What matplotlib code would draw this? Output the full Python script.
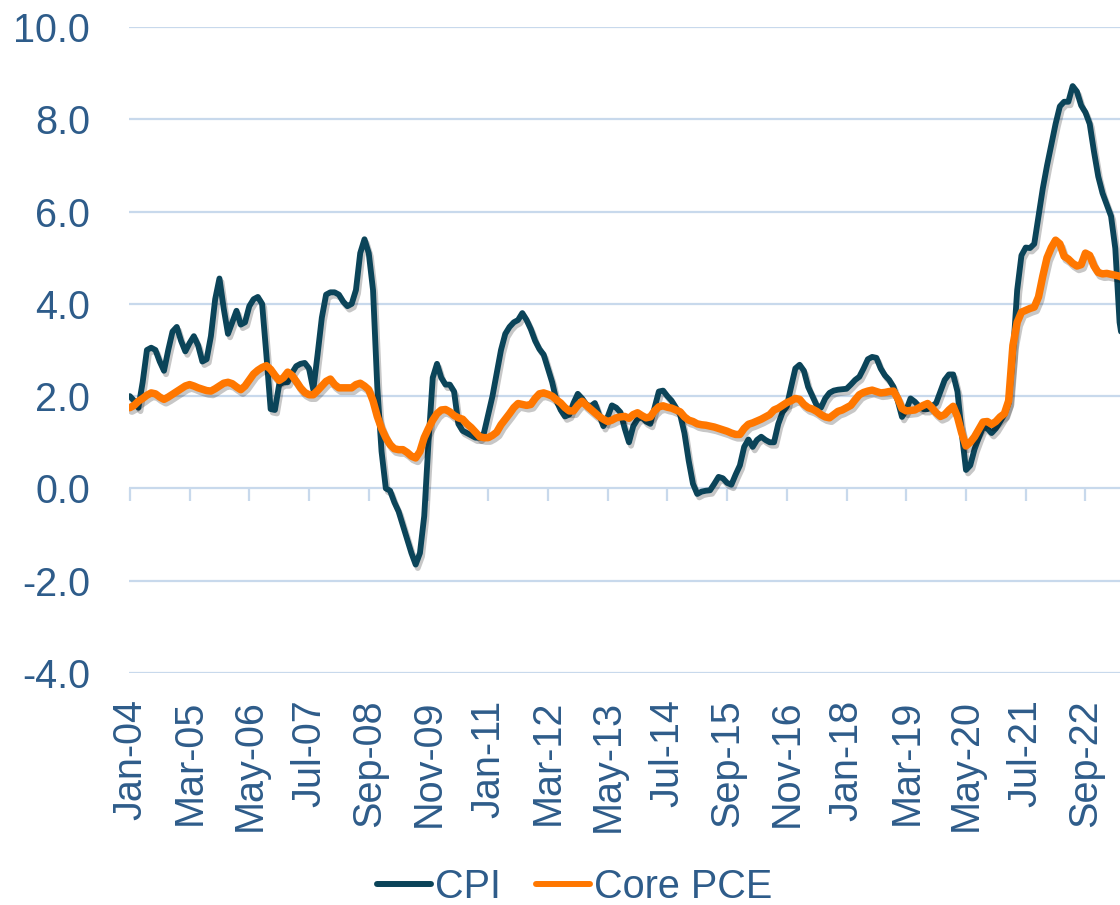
import numpy as np
import matplotlib
matplotlib.use("Agg")
import matplotlib.pyplot as plt
import matplotlib.patheffects as pe

# ---- data (monthly, starting Jan-04) ----
cpi = [
    2.0, 1.9, 1.75, 2.3, 3.0, 3.05, 3.0, 2.75, 2.55, 3.0, 3.4, 3.5,
    3.2, 2.97, 3.15, 3.3, 3.1, 2.75, 2.8, 3.3, 4.1, 4.55, 3.9, 3.35,
    3.6, 3.85, 3.55, 3.6, 3.95, 4.1, 4.15, 4.0, 2.9, 1.72, 1.7, 2.25,
    2.3, 2.3, 2.5, 2.65, 2.7, 2.72, 2.6, 2.14, 2.9, 3.7, 4.2, 4.25,
    4.25, 4.2, 4.05, 3.95, 4.0, 4.3, 5.1, 5.4, 5.1, 4.3, 2.2, 0.8,
    0.0, -0.05, -0.3, -0.5, -0.8, -1.1, -1.4, -1.65, -1.4, -0.6, 1.0, 2.4,
    2.7, 2.4, 2.25, 2.25, 2.1, 1.4, 1.25, 1.2, 1.15, 1.1, 1.1, 1.2,
    1.6, 2.0, 2.5, 3.0, 3.35, 3.5, 3.6, 3.65, 3.8, 3.65, 3.45, 3.2,
    3.02, 2.9, 2.6, 2.3, 1.9, 1.7, 1.56, 1.6, 1.85, 2.05, 1.95, 1.82,
    1.78, 1.85, 1.6, 1.35, 1.55, 1.8, 1.75, 1.65, 1.3, 1.0, 1.35, 1.5,
    1.55, 1.45, 1.4, 1.75, 2.1, 2.12, 2.0, 1.9, 1.75, 1.6, 1.2, 0.6,
    0.1, -0.12, -0.07, -0.05, -0.04, 0.1, 0.25, 0.22, 0.12, 0.08, 0.3, 0.5,
    0.9, 1.06, 0.9, 1.05, 1.12, 1.05, 1.0, 1.0, 1.4, 1.65, 1.78, 2.2,
    2.6, 2.68, 2.55, 2.2, 2.0, 1.8, 1.75, 1.95, 2.07, 2.12, 2.14, 2.15,
    2.16, 2.25, 2.35, 2.42, 2.6, 2.8, 2.85, 2.83, 2.6, 2.45, 2.35, 2.2,
    1.9, 1.55, 1.7, 1.95, 1.88, 1.78, 1.72, 1.72, 1.78, 1.85, 2.1, 2.35,
    2.47, 2.47, 2.1, 1.2, 0.4, 0.5, 0.85, 1.1, 1.33, 1.3, 1.2, 1.3,
    1.45, 1.6, 1.85, 2.9, 4.3, 5.05, 5.22, 5.21, 5.3, 5.9, 6.5, 7.0,
    7.45, 7.9, 8.28, 8.38, 8.38, 8.72, 8.6, 8.3, 8.15, 7.9, 7.3, 6.76,
    6.4, 6.15, 5.9, 5.2, 3.6, 3.0,
]
core_pce = [
    1.75, 1.8, 1.89, 1.95, 2.02, 2.07, 2.05, 1.98, 1.93, 1.98, 2.04, 2.1,
    2.16, 2.22, 2.25, 2.22, 2.18, 2.15, 2.12, 2.11, 2.16, 2.22, 2.28, 2.3,
    2.27, 2.2, 2.14, 2.22, 2.35, 2.48, 2.56, 2.62, 2.66, 2.58, 2.45, 2.34,
    2.4, 2.52, 2.45, 2.32, 2.18, 2.08, 2.03, 2.03, 2.12, 2.22, 2.32, 2.37,
    2.25, 2.18, 2.18, 2.18, 2.18, 2.25, 2.28, 2.22, 2.14, 1.9, 1.56, 1.3,
    1.1, 0.95, 0.86, 0.84, 0.84, 0.78, 0.7, 0.66, 0.8, 1.1, 1.3, 1.48,
    1.62, 1.7, 1.71, 1.66, 1.58, 1.53, 1.5, 1.4, 1.32, 1.22, 1.12, 1.1,
    1.1, 1.15, 1.22, 1.38, 1.5, 1.62, 1.75, 1.84, 1.82, 1.8, 1.82, 1.95,
    2.05, 2.07, 2.04, 2.0, 1.92, 1.85, 1.75, 1.68, 1.68, 1.8, 1.89, 1.8,
    1.72, 1.64, 1.56, 1.5, 1.45, 1.48, 1.53, 1.55, 1.56, 1.52, 1.6, 1.64,
    1.58, 1.53, 1.55, 1.68, 1.77, 1.79, 1.76, 1.74, 1.7, 1.66, 1.55, 1.48,
    1.45, 1.4, 1.38, 1.37, 1.35, 1.33, 1.3, 1.27, 1.24, 1.2, 1.17, 1.17,
    1.3, 1.39, 1.42, 1.46, 1.5, 1.55, 1.6, 1.7, 1.74, 1.8, 1.86, 1.9,
    1.95, 1.93, 1.82, 1.75, 1.72, 1.67, 1.6, 1.55, 1.53, 1.6, 1.67, 1.7,
    1.75, 1.8, 1.92, 2.03, 2.08, 2.11, 2.13, 2.1, 2.07, 2.08, 2.1, 2.11,
    1.95, 1.73, 1.68, 1.69, 1.7, 1.75, 1.8, 1.84, 1.75, 1.64, 1.56, 1.6,
    1.7, 1.78, 1.55, 1.2, 0.92, 1.0, 1.12, 1.28, 1.44, 1.45, 1.39, 1.45,
    1.55, 1.62, 1.9, 3.1, 3.6, 3.82, 3.86, 3.9, 3.93, 4.15, 4.6, 5.0,
    5.22, 5.38, 5.3, 5.03, 4.97, 4.88, 4.82, 4.85, 5.1, 5.05, 4.82, 4.68,
    4.65, 4.66, 4.64, 4.62, 4.6, 4.55,
]
tick_labels = ["Jan-04", "Mar-05", "May-06", "Jul-07", "Sep-08", "Nov-09",
               "Jan-11", "Mar-12", "May-13", "Jul-14", "Sep-15", "Nov-16",
               "Jan-18", "Mar-19", "May-20", "Jul-21", "Sep-22"]
y_ticks = [-4, -2, 0, 2, 4, 6, 8, 10]

# ---- style ----
TXT = "#2E5C8A"
GRID = "#C8D9EC"
C_CPI = "#0B4459"
C_PCE = "#FF7700"
FS = 28.5
plt.rcParams["font.family"] = ["Liberation Sans", "DejaVu Sans"]

W, H = 1120, 905
fig = plt.figure(figsize=(W / 100, H / 100), dpi=100)
ax = fig.add_axes([129 / W, 1 - 673 / H, 1 - 129 / W, (673 - 27) / H])

x = np.arange(len(cpi))
shadow = [pe.SimpleLineShadow(offset=(1.5, -2.5), alpha=0.22, shadow_color="black"), pe.Normal()]
ax.plot(x, cpi, color=C_CPI, lw=4.2, label="CPI", path_effects=shadow,
        solid_joinstyle="round", solid_capstyle="round", zorder=3)
ax.plot(np.arange(len(core_pce)), core_pce, color=C_PCE, lw=5.4, label="Core PCE",
        path_effects=shadow, solid_joinstyle="round", solid_capstyle="round", zorder=4)

ax.set_ylim(-4, 10)
ax.set_xlim(-0.2, 232.1)
ax.set_yticks(y_ticks)
ax.set_yticklabels([f"{v:.1f}" for v in y_ticks])
ax.grid(axis="y", color=GRID, lw=1.6)
ax.set_axisbelow(True)

tick_pos = np.arange(len(tick_labels)) * 14
ax.set_xticks(tick_pos)
ax.set_xticklabels(tick_labels, rotation=90)
ax.tick_params(axis="x", length=0, pad=19, labelsize=FS, labelcolor=TXT)
ax.tick_params(axis="y", length=0, pad=28, labelsize=FS, labelcolor=TXT)
for s in ax.spines.values():
    s.set_visible(False)

# tick marks hanging from the zero line
sec = ax.secondary_xaxis(4 / 14)
sec.set_xticks(tick_pos)
sec.tick_params(axis="x", length=9.5, width=1.6, color=GRID, labelbottom=False, direction="out")
sec.spines["bottom"].set_visible(False)

leg = fig.legend(loc="center", bbox_to_anchor=(0.513, 1 - 887 / H), ncol=2, frameon=False,
                 fontsize=FS, handlelength=1.35, handletextpad=0.1, columnspacing=0.9,
                 labelcolor=TXT)
for h in leg.get_lines():
    h.set_linewidth(4.3)
    h.set_solid_capstyle("round")
    h.set_path_effects([])

fig.savefig("out.png", dpi=100)
